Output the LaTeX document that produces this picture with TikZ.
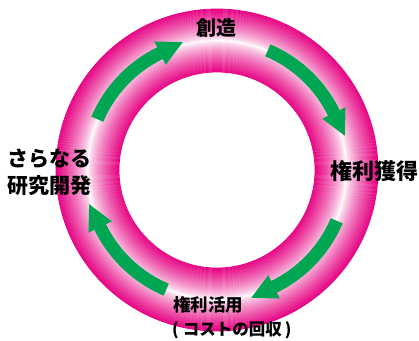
\documentclass[tikz,border=0pt]{standalone}
\usepackage{fontspec}
\setmainfont{Noto Sans CJK JP}
\definecolor{mag}{RGB}{230,0,130}
\definecolor{grn}{RGB}{0,166,81}
\tikzset{
  lbl/.style={inner sep=0pt, text=black, font=\bfseries},
}
\newcommand\ringarrow[1]{%
  \fill[grn, rotate=#1] (157:123.5pt) arc[start angle=157,end angle=116,radius=123.5pt]
    -- (116:117pt) -- (105:132.4pt) -- (116:143pt) -- (116:136.5pt)
    arc[start angle=116,end angle=157,radius=136.5pt] -- cycle;
}
\begin{document}
\begin{tikzpicture}
\useasboundingbox (-217pt,-170pt) rectangle (202pt,170pt);
\fill[white] (-217pt,-170pt) rectangle (202pt,170pt);
\foreach \r in {98,98.5,...,161}{
  \pgfmathtruncatemacro\f{100*(abs(\r-129.5)/31.5)^0.75}
  \draw[line width=0.75pt, mag!\f!white] (0,0) circle[radius=\r pt];
}
\ringarrow{0}
\ringarrow{-90}
\ringarrow{-180}
\ringarrow{-270}
\node[lbl,font=\bfseries\fontsize{20}{24}\selectfont] (create) at (-1pt,142pt) {創造};
\node[lbl,font=\bfseries\fontsize{22}{26}\selectfont] (acquire) at (157pt,-1pt) {権利獲得};
\node[lbl,anchor=west,align=left,font=\bfseries\fontsize{21}{27}\selectfont] (research) at (-210pt,-2pt) {さらなる\\研究開発};
\node[lbl,anchor=west,font=\bfseries\fontsize{17.5}{21}\selectfont] (use) at (-44pt,-135pt) {権利活用};
\node[lbl,anchor=west,font=\bfseries\fontsize{16.5}{20}\selectfont] (cost) at (-45pt,-160pt) {(\hspace{4pt}コストの回収\hspace{3pt})};
\end{tikzpicture}
\end{document}
